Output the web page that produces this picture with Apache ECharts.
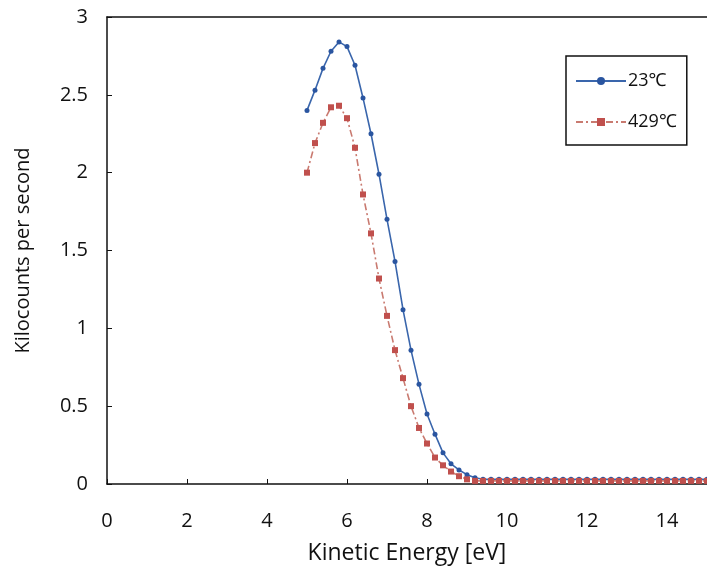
<!DOCTYPE html>
<html>
<head>
<meta charset="utf-8">
<script src="https://cdn.jsdelivr.net/npm/echarts@6/dist/echarts.min.js"></script>
<style>
html,body{margin:0;padding:0;background:#fff;}
#chart{width:707px;height:570px;}
</style>
</head>
<body>
<div id="chart"></div>
<script>
const energies = [5.0,5.2,5.4,5.6,5.8,6.0,6.2,6.4,6.6,6.8,7.0,7.2,7.4,7.6,7.8,8.0,8.2,8.4,8.6,8.8,9.0,9.2,9.4,9.6,9.8,10.0,10.2,10.4,10.6,10.8,11.0,11.2,11.4,11.6,11.8,12.0,12.2,12.4,12.6,12.8,13.0,13.2,13.4,13.6,13.8,14.0,14.2,14.4,14.6,14.8,15.0];
const counts23 = [2.40,2.53,2.67,2.78,2.84,2.81,2.69,2.48,2.25,1.99,1.70,1.43,1.12,0.86,0.64,0.45,0.32,0.20,0.13,0.09,0.06,0.04,0.03,0.03,0.03,0.03,0.03,0.03,0.03,0.03,0.03,0.03,0.03,0.03,0.03,0.03,0.03,0.03,0.03,0.03,0.03,0.03,0.03,0.03,0.03,0.03,0.03,0.03,0.03,0.03,0.03];
const counts429 = [2.00,2.19,2.32,2.42,2.43,2.35,2.16,1.86,1.61,1.32,1.08,0.86,0.68,0.50,0.36,0.26,0.17,0.12,0.08,0.05,0.03,0.02,0.02,0.02,0.02,0.02,0.02,0.02,0.02,0.02,0.02,0.02,0.02,0.02,0.02,0.02,0.02,0.02,0.02,0.02,0.02,0.02,0.02,0.02,0.02,0.02,0.02,0.02,0.02,0.02,0.02];
const seriesNames = ['23\u2103', '429\u2103'];

const font = '"Open Sans", "Noto Sans", sans-serif';
const chart = echarts.init(document.getElementById('chart'), null, {renderer:'canvas'});
const pairs = (ys) => energies.map((x, i) => [x, ys[i]]);

chart.setOption({
  backgroundColor: '#fff',
  animation: false,
  textStyle: {fontFamily: font, color: '#111'},
  grid: {left: 107, right: 0, top: 17, bottom: 86},
  legend: {
    orient: 'vertical',
    left: 566, top: 56,
    padding: [16, 10, 14, 9],
    itemGap: 23,
    itemWidth: 50, itemHeight: 10,
    borderColor: '#111', borderWidth: 1.5,
    backgroundColor: '#fff',
    textStyle: {fontSize: 18, color: '#111', fontFamily: font, padding: [0, 0, 0, -3]},
    data: seriesNames
  },
  xAxis: [{
    type: 'value', min: 0, max: 15, interval: 2,
    name: 'Kinetic Energy [eV]', nameLocation: 'middle', nameGap: 58,
    nameTextStyle: {fontSize: 23, color: '#111'},
    axisLine: {lineStyle: {color: '#111', width: 1.5}},
    axisTick: {inside: true, length: 5, lineStyle: {color: '#111'}},
    axisLabel: {fontSize: 20, color: '#111', margin: 27, showMaxLabel: false},
    splitLine: {show: false}
  }, {
    type: 'value', min: 0, max: 15, position: 'top',
    axisLine: {show: true, lineStyle: {color: '#111', width: 1.5}},
    axisTick: {show: false}, axisLabel: {show: false}, splitLine: {show: false}
  }],
  yAxis: {
    type: 'value', min: 0, max: 3, interval: 0.5,
    name: 'Kilocounts per second', nameLocation: 'middle', nameGap: 74,
    nameTextStyle: {fontSize: 20, color: '#111'},
    axisLine: {show: true, lineStyle: {color: '#111', width: 1.5}},
    axisTick: {show: true, inside: true, length: 5, lineStyle: {color: '#111'}},
    axisLabel: {fontSize: 20, color: '#111', margin: 19},
    splitLine: {show: false}
  },
  series: [{
    name: seriesNames[0], type: 'line', xAxisIndex: 0,
    data: pairs(counts23),
    symbol: 'circle', symbolSize: 5,
    itemStyle: {color: '#2a55a0'},
    lineStyle: {color: '#3a66ac', width: 1.6}
  }, {
    name: seriesNames[1], type: 'line', xAxisIndex: 0,
    data: pairs(counts429),
    symbol: 'rect', symbolSize: 6,
    itemStyle: {color: '#c0504d'},
    lineStyle: {color: '#c97a70', width: 1.6, type: [7, 3, 2, 3]}
  }]
});
</script>
</body>
</html>
